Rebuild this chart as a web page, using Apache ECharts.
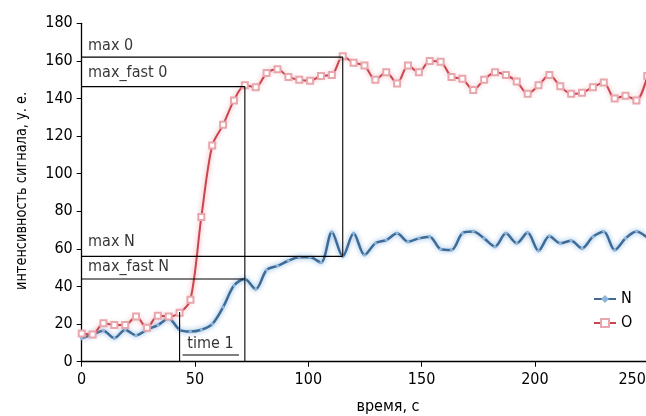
<!DOCTYPE html>
<html>
<head>
<meta charset="utf-8">
<script src="https://cdn.jsdelivr.net/npm/echarts@6/dist/echarts.min.js"></script>
<style>
html,body{margin:0;padding:0;background:#fff;}
#c{width:646px;height:416px;}
</style>
</head>
<body>
<div id="c"></div>
<script>
// time points, s
var times = [0,4.8,9.6,14.4,19.2,24,28.8,33.6,38.4,43.2,48,52.8,57.6,62.4,67.2,72,76.8,81.6,86.4,91.2,96,100.8,105.6,110.4,115.2,120,124.8,129.6,134.4,139.2,144,148.8,153.6,158.4,163.2,168,172.8,177.6,182.4,187.2,192,196.8,201.6,206.4,211.2,216,220.8,225.6,230.4,235.2,240,244.8,249.6];
// series N
var seriesN = [12.4,14.5,16.5,12.5,17,14,17,19.5,23,17,16,17,20,29,40.5,44,38.5,48.8,51,53.7,55.5,55.5,52.7,69,56,68.3,56.8,63,64.7,68.3,63.8,65.6,66.5,59.8,59.4,68.3,69.2,65.6,61.2,68.3,63,68.7,59,66.8,63,64.3,60.3,66.5,69.2,59.4,65.6,69.2,66];
// series O
var seriesO = [15,14.5,20.5,19.5,19.5,24,18,24.5,24,26,33,77,115,126,139,147,146,153.5,155.5,151.5,150,149.5,152,152.5,162.5,159,157.5,150,154,148,157.5,154,160,159.5,151.5,150.5,144.5,150,154,152.5,149,142.5,147,152.5,146.5,142.5,143,146,148.5,140,141.5,139,152];
// tick labels
var xTicks = [0,50,100,150,200,250];
var yTicks = [0,20,40,60,80,100,120,140,160,180];
// annotation levels
var MAX_O = 162, FAST_O = 146.3, MAX_N = 56, FAST_N = 44;
var T_START = 43.2, T_FAST = 72, T_MAX = 115.2, START_TOP = 26.4;
var TIME1_FROM = 44.5, TIME1_TO = 69.4, TIME1_Y = 3.6;
var noteTexts = ['max 0','max_fast 0','max N','max_fast N','time 1'];
var noteX = [2.8,2.8,2.8,2.8,56.8];
var noteY = [167.8,153.4,63.6,50.3,9.6];
var yName = 'интенсивность сигнала, у. е.';
var xName = 'время, с';

var FONT = "'Liberation Sans Narrow','DejaVu Sans Condensed','Noto Sans',sans-serif";

function zip(xs, ys){ return xs.map(function(x,i){ return [x, ys[i]]; }); }

var annPaths = [
  [[0,MAX_O],[T_MAX,MAX_O],[T_MAX,MAX_N]],
  [[0,MAX_N],[T_MAX,MAX_N]],
  [[0,FAST_O],[T_FAST,FAST_O],[T_FAST,0]],
  [[0,FAST_N],[T_FAST,FAST_N]],
  [[T_START,START_TOP],[T_START,0]],
  [[TIME1_FROM,TIME1_Y],[TIME1_TO,TIME1_Y]]
];

var series = [
  {
    name: 'N', type: 'line', data: zip(times, seriesN), smooth: 0.3,
    symbol: 'diamond', symbolSize: 4, showSymbol: true,
    lineStyle: {color: '#3d6b96', width: 2.5, shadowBlur: 5, shadowColor: 'rgba(110,165,220,0.9)'},
    itemStyle: {color: '#8fb5da'}, z: 3
  },
  {
    name: 'O', type: 'line', data: zip(times, seriesO), smooth: 0.3,
    symbol: 'emptyRect', symbolSize: 6, showSymbol: true,
    lineStyle: {color: '#c9464f', width: 2, shadowBlur: 5, shadowColor: 'rgba(235,140,150,0.9)'},
    itemStyle: {color: '#e8a6ad', borderColor: '#e8a6ad', borderWidth: 1.2}, z: 3
  }
];
annPaths.forEach(function(p){
  series.push({
    type: 'line', data: p, symbol: 'none', silent: true, z: 4,
    lineStyle: {color: '#000', width: 1.1}, animation: false, legendHoverLink: false
  });
});
var noteData = noteX.map(function(x,i){ return [x, noteY[i], noteTexts[i]]; });
noteData[4] = {value: noteData[4], label: {align: 'center'}};
series.push({
  type: 'scatter', symbolSize: 0, silent: true, z: 5,
  data: noteData,
  label: {
    show: true, position: [0,0], align: 'left', verticalAlign: 'middle',
    color: '#000', fontFamily: FONT, fontSize: 16,
    formatter: function(p){ return p.value[2]; }
  }
});

var chart = echarts.init(document.getElementById('c'), null, {renderer: 'canvas'});
chart.setOption({
  animation: false,
  backgroundColor: '#fff',
  grid: {left: 81.7, top: 23.3, bottom: 54.3, right: -2.2, containLabel: false, outerBoundsMode: 'none'},
  legend: {
    data: ['N','O'], orient: 'vertical', left: 588, top: 286,
    itemWidth: 22, itemHeight: 10, itemGap: 8,
    textStyle: {fontFamily: FONT, fontSize: 16, color: '#000'}
  },
  graphic: [{
    type: 'text', x: 22, y: 191, rotation: Math.PI / 2, scaleX: 0.96, scaleY: 1,
    silent: true,
    style: {text: yName, fontSize: 15, fontFamily: FONT, fill: '#000', align: 'center', verticalAlign: 'middle'}
  }],
  xAxis: {
    type: 'value', min: 0, max: 250, interval: 50,
    name: xName, nameLocation: 'middle', nameGap: 37,
    nameTextStyle: {fontFamily: FONT, fontSize: 16, color: '#000', padding: [0,0,0,46]},
    axisLine: {show: true, lineStyle: {color: '#000', width: 1.3}},
    axisTick: {show: true, length: 5, lineStyle: {color: '#000'}},
    splitLine: {show: false},
    axisLabel: {
      showMaxLabel: true, margin: 10, color: '#000', fontFamily: FONT, fontSize: 16,
      formatter: function(v){ return v === xTicks[xTicks.length-1] ? '{e|' + v + '}' : String(v); },
      rich: {e: {fontFamily: FONT, fontSize: 16, color: '#000', padding: [0,32,0,0]}}
    }
  },
  yAxis: {
    type: 'value', min: 0, max: 180, interval: 20,
    axisLine: {show: true, lineStyle: {color: '#000', width: 1.3}},
    axisTick: {show: true, length: 5, lineStyle: {color: '#000'}},
    splitLine: {show: false},
    axisLabel: {margin: 9, color: '#000', fontFamily: FONT, fontSize: 16,
      formatter: function(v){ return yTicks.indexOf(v) >= 0 ? String(v) : ''; }}
  },
  series: series
});
</script>
</body>
</html>
